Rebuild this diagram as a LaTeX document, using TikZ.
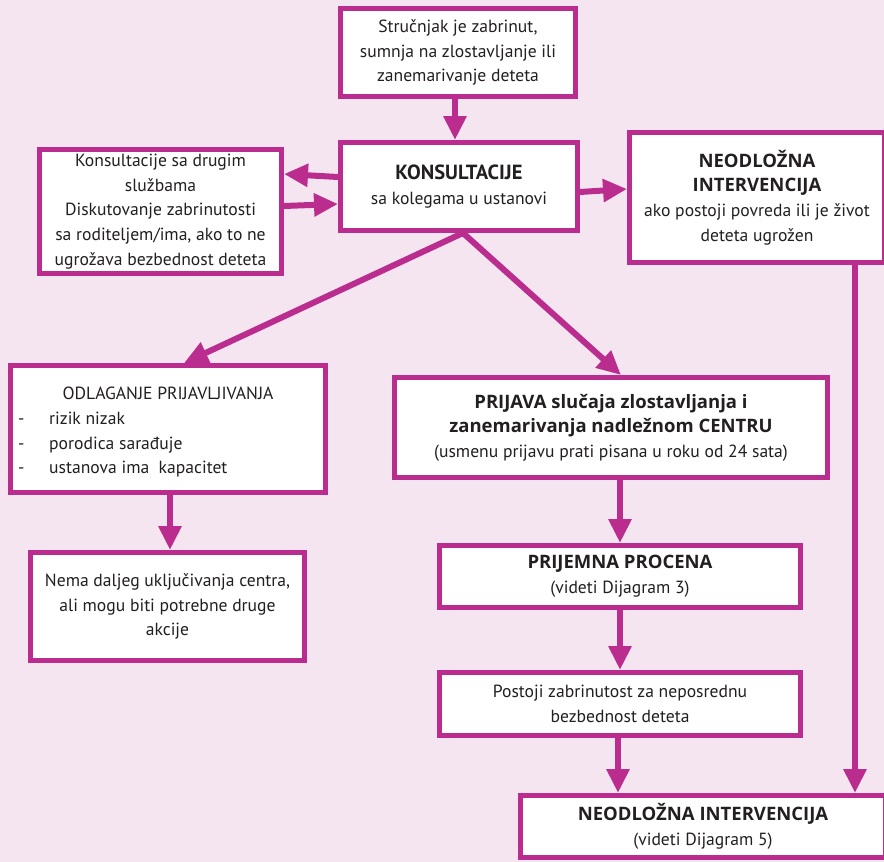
\documentclass[tikz,border=0pt]{standalone}
\usepackage{fontspec}
\setmainfont{PT Sans}
\newfontfamily\heavy{Open Sans}
\usetikzlibrary{arrows.meta,calc}
\definecolor{mag}{HTML}{BA2D8F}
\definecolor{bg}{HTML}{F5E5F0}
\definecolor{ink}{HTML}{231F20}
\newcommand{\hd}[1]{{\heavy\bfseries\fontsize{18.5}{24.5}\selectfont #1}}
\begin{document}
\begin{tikzpicture}[x=1pt,y=-1pt,
  box/.style={draw=mag, line width=5pt, fill=white, inner sep=0pt,
    font=\fontsize{17.6}{24.6}\selectfont, text=ink, align=center},
  txt/.style={inner sep=0pt, font=\fontsize{17.6}{24.6}\selectfont, text=ink},
  flow/.style={draw=mag, line width=6pt, -{Triangle[width=22pt,length=24pt]}},
]
\useasboundingbox (0,0) rectangle (884,862);
\fill[bg] (0,0) rectangle (884,862);

% boxes
\node[box, minimum width=235pt, minimum height=88pt] (b1) at (458,52.5)
  {Stručnjak je zabrinut,\\ sumnja na zlostavljanje ili\\ zanemarivanje deteta};
\node[box, minimum width=237pt, minimum height=88pt] (kons) at (459,186.5)
  {{\fontsize{20.5}{27}\selectfont\bfseries KONSULTACIJE}\\ sa kolegama u ustanovi};
\node[box, minimum width=242pt, minimum height=124pt] (left) at (160.5,211.5)
  {Konsultacije sa drugim\\ službama\\ Diskutovanje zabrinutosti\\ sa roditeljem/ima, ako to ne\\ ugrožava bezbednost deteta};
\node[box, minimum width=255pt, minimum height=130pt] (right) at (757,197.5)
  {\hd{NEODLOŽNA}\\ \hd{INTERVENCIJA}\\ ako postoji povreda ili je život\\ deteta ugrožen};
\node[box, minimum width=315pt, minimum height=127pt] (odl) at (168,429) {};
\node[txt, anchor=base] (odl-t) at (168,399) {ODLAGANJE PRIJAVLJIVANJA};
\node[txt, anchor=base west] (odl-d1) at (18,424) {-};
\node[txt, anchor=base west] (odl-d2) at (18,449) {-};
\node[txt, anchor=base west] (odl-d3) at (18,473) {-};
\node[txt, anchor=base west] (odl-i1) at (49,424) {rizik nizak};
\node[txt, anchor=base west] (odl-i2) at (49,449) {porodica sarađuje};
\node[txt, anchor=base west] (odl-i3) at (49,473) {ustanova ima\ \ kapacitet};
\node[box, minimum width=274pt, minimum height=108pt] (nema) at (167.5,606.5)
  {Nema daljeg uključivanja centra,\\ ali mogu biti potrebne druge\\ akcije};
\node[box, minimum width=433pt, minimum height=100pt] (prij) at (611,427.5)
  {\hd{PRIJAVA slučaja zlostavljanja i}\\ \hd{zanemarivanja nadležnom CENTRU}\\ (usmenu prijavu prati pisana u roku od 24 sata)};
\node[box, minimum width=361pt, minimum height=62pt] (proc) at (620,576.5)
  {\hd{PRIJEMNA PROCENA}\\ (videti Dijagram 3)};
\node[box, minimum width=361pt, minimum height=63pt] (post) at (620,704)
  {Postoji zabrinutost za neposrednu\\ bezbednost deteta};
\node[box, minimum width=365pt, minimum height=62pt] (fin) at (703,826.5)
  {\hd{NEODLOŽNA INTERVENCIJA}\\ (videti Dijagram 5)};

% connectors
\draw[flow] (b1.south -| 455,0) -- (kons.north -| 455,0);
\draw[flow] (kons.west |- 0,177) -- (left.east |- 0,174);
\draw[flow] (left.east |- 0,206) -- (kons.west |- 0,204);
\draw[flow] (kons.east |- 0,192) -- (right.west |- 0,189);
\coordinate (split) at ($(kons.south)+(4,0)$);
\draw[flow] (split) -- (odl.north -| 184,0);
\draw[flow] (split) -- (prij.north -| 621,0);
\draw[flow] (odl.south -| 170,0) -- (nema.north -| 170,0);
\draw[flow] (prij.south -| 620,0) -- (proc.north -| 620,0);
\draw[flow] (proc.south -| 620,0) -- (post.north -| 620,0);
\draw[flow] (post.south -| 618,0) -- (fin.north -| 618,0);
\draw[flow] (right.south -| 855,0) -- (fin.north -| 855,0);
\end{tikzpicture}
\end{document}
